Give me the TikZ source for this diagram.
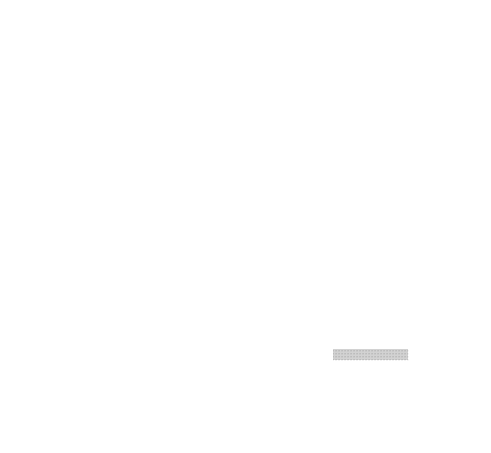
\documentclass[tikz,border=0pt]{standalone}
\usepackage{tikz}
\usetikzlibrary{patterns}

\tikzset{
  dotbar/.style={rectangle,inner sep=0pt,minimum width=75pt,minimum height=11pt,
    preaction={fill=gray!35},pattern=dots,pattern color=gray!90!black},
}

\begin{document}
\begin{tikzpicture}[x=1pt,y=1pt]
    \useasboundingbox (0,0) rectangle (491,453);
    \node[dotbar,anchor=north west] (bar) at (333,104) {};
  \end{tikzpicture}
\end{document}
